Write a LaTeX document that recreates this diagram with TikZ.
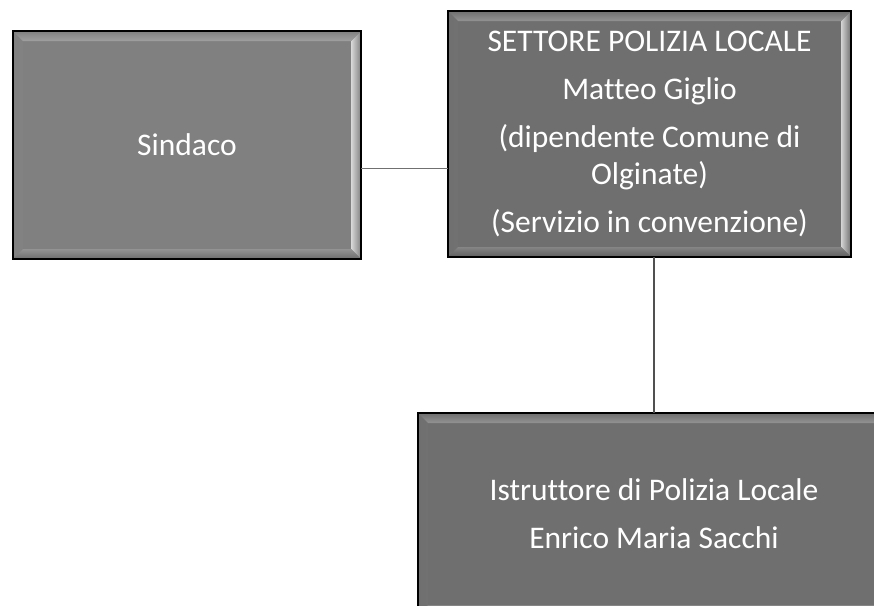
\documentclass[tikz,border=0pt]{standalone}
\usepackage{fontspec}
\setmainfont[RawFeature={-liga;-clig;-calt;-dlig}]{Carlito}
\definecolor{boxA}{HTML}{808080}
\definecolor{boxB}{HTML}{6F6F6F}
\definecolor{linkthin}{HTML}{707070}
\definecolor{linkthick}{HTML}{505050}
\tikzset{
  bev/.style={fill=#1, draw=black, line width=1.3pt, inner sep=0pt, outer sep=0pt,
    text=white, align=center, font=\fontsize{31.5}{37}\selectfont,
    path picture={
      \shade[left color=#1, right color=white!70!#1]
        (path picture bounding box.south west) -- (path picture bounding box.north west)
        -- ([shift={(10pt,-10pt)}]path picture bounding box.north west)
        -- ([shift={(10pt,10pt)}]path picture bounding box.south west) -- cycle;
      \shade[left color=white!70!#1, right color=#1]
        (path picture bounding box.south east) -- (path picture bounding box.north east)
        -- ([shift={(-10pt,-10pt)}]path picture bounding box.north east)
        -- ([shift={(-10pt,10pt)}]path picture bounding box.south east) -- cycle;
      \shade[top color=#1, bottom color=white!25!#1]
        (path picture bounding box.north west) -- (path picture bounding box.north east)
        -- ([shift={(-10pt,-10pt)}]path picture bounding box.north east)
        -- ([shift={(10pt,-10pt)}]path picture bounding box.north west) -- cycle;
      \shade[top color=white!15!#1, bottom color=#1!85!black]
        (path picture bounding box.south west) -- (path picture bounding box.south east)
        -- ([shift={(-10pt,10pt)}]path picture bounding box.south east)
        -- ([shift={(10pt,10pt)}]path picture bounding box.south west) -- cycle;
    }},
  thinlink/.style={draw=linkthin, line width=1pt},
  thicklink/.style={draw=linkthick, line width=2.5pt}
}
\begin{document}
\begin{tikzpicture}[x=1pt,y=-1pt]
\useasboundingbox (0,0) rectangle (874,605);
\node[bev=boxA, minimum width=348pt, minimum height=228pt] (sindaco) at (187,145) {Sindaco};
\node[bev=boxB, minimum width=403pt, minimum height=246pt] (settore) at (649.5,134)
  {SETTORE POLIZIA LOCALE\\[11pt]Matteo Giglio\\[11pt](dipendente Comune di\\Olginate)\\[11pt](Servizio in convenzione)};
\node[bev=boxB, minimum width=472pt, minimum height=202pt] (istr) at (654,514)
  {Istruttore di Polizia Locale\\[11pt]Enrico Maria Sacchi};
\coordinate (ly) at (0,168);
\draw[thinlink] (sindaco.east |- ly) -- (settore.west |- ly);
\draw[thicklink] (settore.south -| istr.north) -- (istr.north);
\end{tikzpicture}
\end{document}
